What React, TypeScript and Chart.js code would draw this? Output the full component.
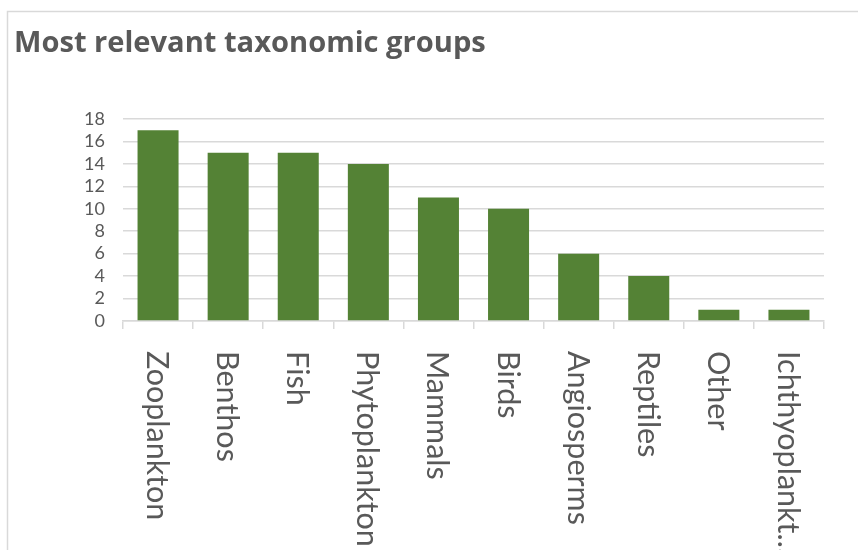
import React, { useEffect, useRef } from "react";
import { Chart, registerables } from "chart.js";

Chart.register(...registerables);

const TITLE = "Most relevant taxonomic groups";
const categories = [
  "Zooplankton",
  "Benthos",
  "Fish",
  "Phytoplankton",
  "Mammals",
  "Birds",
  "Angiosperms",
  "Reptiles",
  "Other",
  "Ichthyoplankt...",
];
const counts = [17, 15, 15, 14, 11, 10, 6, 4, 1, 1];
const Y_MIN = 0;
const Y_MAX = 18;
const Y_STEP = 2;

const TEXT = "#595959";
const GRID = "#d9d9d9";
const BAR = "#548235";
const FONT = "Lato, 'Open Sans', sans-serif";
const TITLE_FONT = "'Open Sans', Lato, sans-serif";

const decorPlugin = {
  id: "decor",
  beforeDraw(chart: any) {
    const ctx = chart.ctx;
    ctx.save();
    ctx.fillStyle = "#ffffff";
    ctx.fillRect(0, 0, chart.width, chart.height);
    ctx.strokeStyle = GRID;
    ctx.lineWidth = 1.5;
    ctx.beginPath();
    ctx.moveTo(7.5, chart.height + 5);
    ctx.lineTo(7.5, 11.5);
    ctx.lineTo(chart.width + 5, 11.5);
    ctx.stroke();
    ctx.fillStyle = TEXT;
    ctx.font = `bold 28px ${TITLE_FONT}`;
    const w = ctx.measureText(TITLE).width;
    const size = 28 * (472 / w);
    ctx.font = `bold ${size.toFixed(1)}px ${TITLE_FONT}`;
    ctx.textAlign = "left";
    ctx.textBaseline = "alphabetic";
    ctx.fillText(TITLE, 14, 52);
    ctx.restore();
  },
  afterDraw(chart: any) {
    const ctx = chart.ctx;
    const xs = chart.scales.x;
    ctx.save();
    ctx.fillStyle = TEXT;
    ctx.font = `30.5px ${FONT}`;
    ctx.textAlign = "left";
    ctx.textBaseline = "alphabetic";
    const capH = 22;
    categories.forEach((label, i) => {
      const cx = xs.getPixelForValue(i);
      ctx.save();
      ctx.translate(cx, 351);
      ctx.rotate(Math.PI / 2);
      ctx.fillText(label, 0, capH / 2);
      ctx.restore();
    });
    ctx.restore();
  },
};

export default function App() {
  const ref = useRef<HTMLCanvasElement | null>(null);
  useEffect(() => {
    if (!ref.current) return;
    const chart = new Chart(ref.current, {
      type: "bar",
      data: {
        labels: categories,
        datasets: [
          {
            data: counts,
            backgroundColor: BAR,
            borderWidth: 0,
            barPercentage: 0.585,
            categoryPercentage: 1,
          },
        ],
      },
      plugins: [decorPlugin],
      options: {
        responsive: false,
        animation: false,
        events: [],
        layout: { padding: { left: 0, top: 119, right: 34, bottom: 0 } },
        plugins: {
          legend: { display: false },
          title: { display: false },
          tooltip: { enabled: false },
        },
        scales: {
          x: {
            offset: true,
            grid: {
              offset: true,
              drawOnChartArea: false,
              drawTicks: true,
              tickLength: 8,
              color: GRID,
              lineWidth: 1.5,
            },
            border: { display: true, color: GRID, width: 1.5 },
            ticks: { display: false },
            afterFit: (scale: any) => {
              scale.height = 550 - 321;
            },
          },
          y: {
            min: Y_MIN,
            max: Y_MAX,
            grid: { color: GRID, lineWidth: 1.5, drawTicks: false },
            border: { display: false },
            ticks: {
              stepSize: Y_STEP,
              autoSkip: false,
              color: TEXT,
              font: { family: FONT, size: 18 },
              padding: 18,
            },
            afterFit: (scale: any) => {
              scale.width = 123;
            },
          },
        },
      },
    });
    return () => chart.destroy();
  }, []);
  return (
    <div style={{ position: "fixed", left: 0, top: 0, width: 858, height: 550, background: "#fff" }}>
      <canvas ref={ref} width={858} height={550} />
    </div>
  );
}
